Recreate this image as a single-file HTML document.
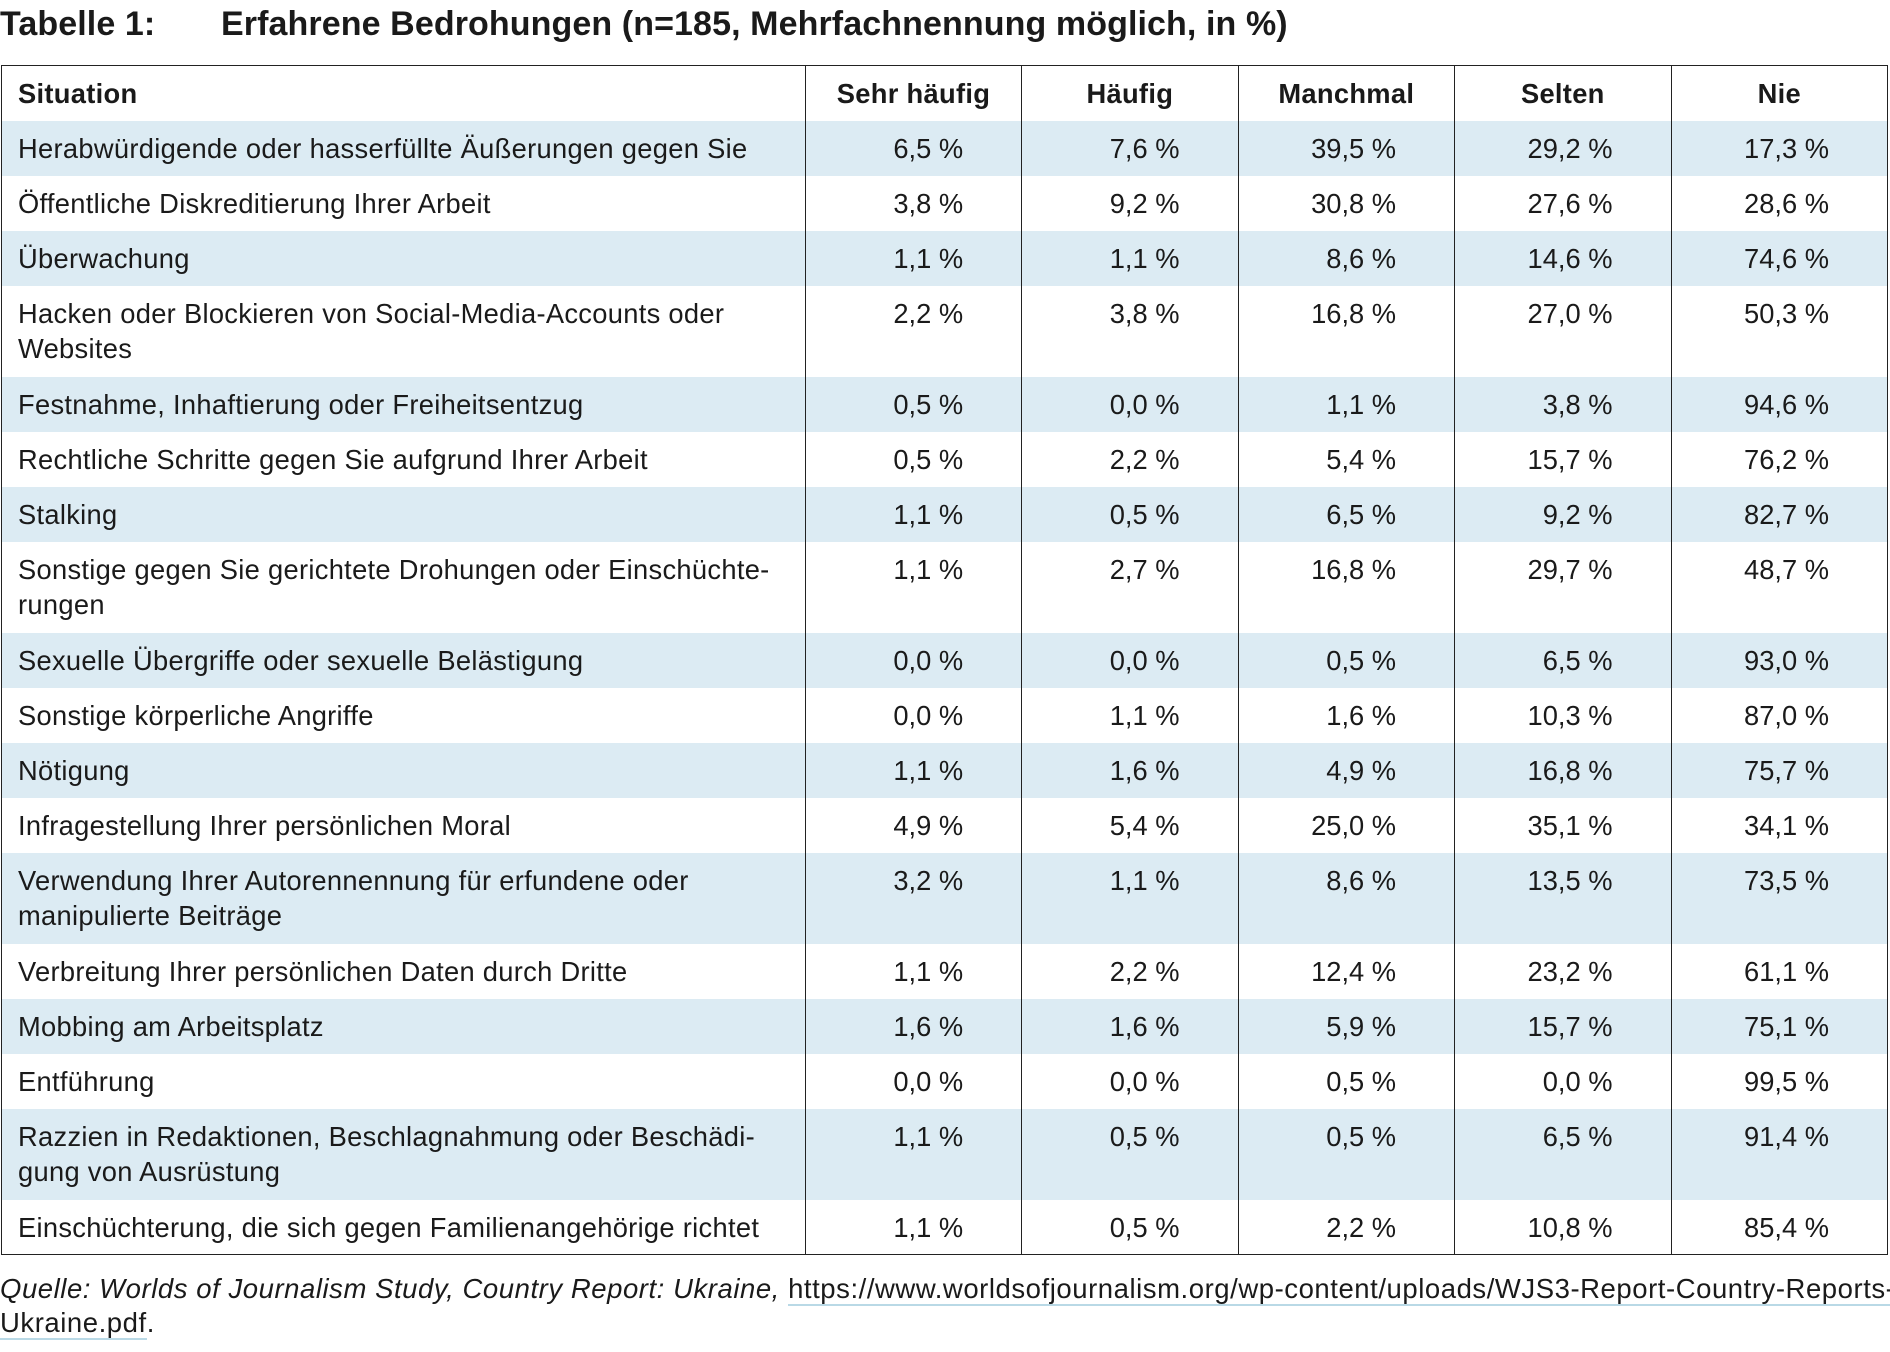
<!DOCTYPE html>
<html><head><meta charset="utf-8"><style>
body{margin:0;width:1890px;height:1352px;background:#fff;font-family:"Liberation Sans",sans-serif;color:#1a1a1a;position:relative;overflow:hidden}
.title{position:absolute;top:5px;left:0;font-weight:bold;font-size:34px;white-space:nowrap;letter-spacing:0.1px}
.title span{position:absolute;left:221px;top:0}
table{position:absolute;left:1px;top:65px;width:1887px;border-collapse:collapse;font-size:27.3px;letter-spacing:0.3px}
td,th{border-left:1.5px solid #222;border-right:1.5px solid #222;padding:0;vertical-align:top;line-height:35px;padding-top:10px;box-sizing:border-box}
table{border:1.5px solid #222}
th{font-weight:bold;height:55px;text-align:center}
th:first-child{text-align:left;padding-left:16px}
td:first-child{padding-left:16px;width:804px;white-space:nowrap}
td.n{text-align:right;padding-right:58px;width:217px;letter-spacing:0}
tr{height:55px}
tr.d{height:91px}
tr.s td{background:#dcebf3}
.foot{position:absolute;left:0;top:1272px;font-size:27.5px;line-height:34px;width:1900px;letter-spacing:0.55px;white-space:nowrap}
.foot a{color:#1a1a1a;text-decoration:none;border-bottom:2px solid #b9d9e6}
</style></head><body>
<div class="title">Tabelle 1:<span>Erfahrene Bedrohungen (n=185, Mehrfachnennung möglich, in %)</span></div>
<table>
<tr><th>Situation</th><th>Sehr häufig</th><th>Häufig</th><th>Manchmal</th><th>Selten</th><th>Nie</th></tr>
<tr class="s"><td>Herabwürdigende oder hasserfüllte Äußerungen gegen Sie</td><td class="n">6,5 %</td><td class="n">7,6 %</td><td class="n">39,5 %</td><td class="n">29,2 %</td><td class="n">17,3 %</td></tr>
<tr><td>Öffentliche Diskreditierung Ihrer Arbeit</td><td class="n">3,8 %</td><td class="n">9,2 %</td><td class="n">30,8 %</td><td class="n">27,6 %</td><td class="n">28,6 %</td></tr>
<tr class="s"><td>Überwachung</td><td class="n">1,1 %</td><td class="n">1,1 %</td><td class="n">8,6 %</td><td class="n">14,6 %</td><td class="n">74,6 %</td></tr>
<tr class="d"><td>Hacken oder Blockieren von Social-Media-Accounts oder<br>Websites</td><td class="n">2,2 %</td><td class="n">3,8 %</td><td class="n">16,8 %</td><td class="n">27,0 %</td><td class="n">50,3 %</td></tr>
<tr class="s"><td>Festnahme, Inhaftierung oder Freiheitsentzug</td><td class="n">0,5 %</td><td class="n">0,0 %</td><td class="n">1,1 %</td><td class="n">3,8 %</td><td class="n">94,6 %</td></tr>
<tr><td>Rechtliche Schritte gegen Sie aufgrund Ihrer Arbeit</td><td class="n">0,5 %</td><td class="n">2,2 %</td><td class="n">5,4 %</td><td class="n">15,7 %</td><td class="n">76,2 %</td></tr>
<tr class="s"><td>Stalking</td><td class="n">1,1 %</td><td class="n">0,5 %</td><td class="n">6,5 %</td><td class="n">9,2 %</td><td class="n">82,7 %</td></tr>
<tr class="d"><td>Sonstige gegen Sie gerichtete Drohungen oder Einschüchte-<br>rungen</td><td class="n">1,1 %</td><td class="n">2,7 %</td><td class="n">16,8 %</td><td class="n">29,7 %</td><td class="n">48,7 %</td></tr>
<tr class="s"><td>Sexuelle Übergriffe oder sexuelle Belästigung</td><td class="n">0,0 %</td><td class="n">0,0 %</td><td class="n">0,5 %</td><td class="n">6,5 %</td><td class="n">93,0 %</td></tr>
<tr><td>Sonstige körperliche Angriffe</td><td class="n">0,0 %</td><td class="n">1,1 %</td><td class="n">1,6 %</td><td class="n">10,3 %</td><td class="n">87,0 %</td></tr>
<tr class="s"><td>Nötigung</td><td class="n">1,1 %</td><td class="n">1,6 %</td><td class="n">4,9 %</td><td class="n">16,8 %</td><td class="n">75,7 %</td></tr>
<tr><td>Infragestellung Ihrer persönlichen Moral</td><td class="n">4,9 %</td><td class="n">5,4 %</td><td class="n">25,0 %</td><td class="n">35,1 %</td><td class="n">34,1 %</td></tr>
<tr class="s d"><td>Verwendung Ihrer Autorennennung für erfundene oder<br>manipulierte Beiträge</td><td class="n">3,2 %</td><td class="n">1,1 %</td><td class="n">8,6 %</td><td class="n">13,5 %</td><td class="n">73,5 %</td></tr>
<tr><td>Verbreitung Ihrer persönlichen Daten durch Dritte</td><td class="n">1,1 %</td><td class="n">2,2 %</td><td class="n">12,4 %</td><td class="n">23,2 %</td><td class="n">61,1 %</td></tr>
<tr class="s"><td>Mobbing am Arbeitsplatz</td><td class="n">1,6 %</td><td class="n">1,6 %</td><td class="n">5,9 %</td><td class="n">15,7 %</td><td class="n">75,1 %</td></tr>
<tr><td>Entführung</td><td class="n">0,0 %</td><td class="n">0,0 %</td><td class="n">0,5 %</td><td class="n">0,0 %</td><td class="n">99,5 %</td></tr>
<tr class="s d"><td>Razzien in Redaktionen, Beschlagnahmung oder Beschädi-<br>gung von Ausrüstung</td><td class="n">1,1 %</td><td class="n">0,5 %</td><td class="n">0,5 %</td><td class="n">6,5 %</td><td class="n">91,4 %</td></tr>
<tr><td>Einschüchterung, die sich gegen Familienangehörige richtet</td><td class="n">1,1 %</td><td class="n">0,5 %</td><td class="n">2,2 %</td><td class="n">10,8 %</td><td class="n">85,4 %</td></tr>
</table>
<div class="foot"><i>Quelle: Worlds of Journalism Study, Country Report: Ukraine,</i> <a>https://www.worldsofjournalism.org/wp-content/uploads/WJS3-Report-Country-Reports-</a><br><a>Ukraine.pdf</a>.</div>
</body></html>
